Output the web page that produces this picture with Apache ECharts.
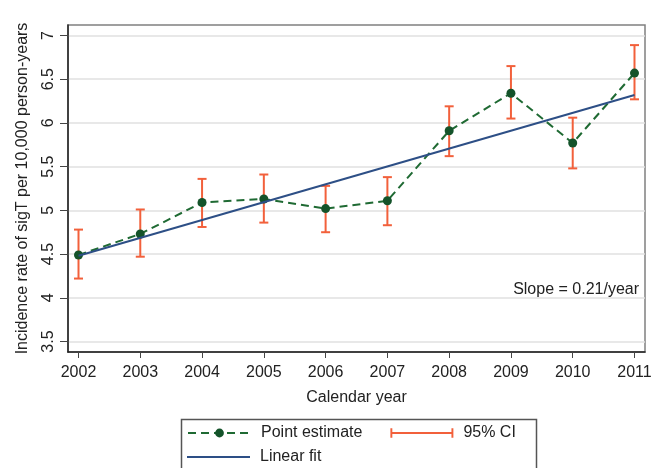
<!DOCTYPE html>
<html>
<head>
<meta charset="utf-8">
<script src="https://cdn.jsdelivr.net/npm/echarts@6/dist/echarts.min.js"></script>
<style>
  html, body { margin: 0; padding: 0; background: #fff; }
  #chart { width: 666px; height: 468px; }
</style>
</head>
<body>
<div id="chart"></div>
<script>
const years = [2002, 2003, 2004, 2005, 2006, 2007, 2008, 2009, 2010, 2011];
const estimates = [4.49, 4.73, 5.09, 5.13, 5.02, 5.11, 5.91, 6.34, 5.77, 6.57];
const ciLow = [4.22, 4.47, 4.81, 4.86, 4.75, 4.83, 5.62, 6.05, 5.48, 6.27];
const ciHigh = [4.78, 5.01, 5.36, 5.41, 5.28, 5.38, 6.19, 6.65, 6.06, 6.89];
const fitYears = [2002, 2011];
const fitValues = [4.48, 6.32];
const yTicks = [3.5, 4, 4.5, 5, 5.5, 6, 6.5, 7];
const xTicks = years;

const FONT = "'Liberation Sans', Arial, sans-serif";
const TXT = '#222';
const GREEN = '#1f6a33';
const MARK = '#14532a';
const ORANGE = '#f2603b';
const BLUE = '#2d4f86';

const chart = echarts.init(document.getElementById('chart'));

const option = {
  animation: false,
  backgroundColor: '#fff',
  textStyle: { fontFamily: FONT, color: TXT },
  grid: {
    left: 68, top: 25, right: 21, bottom: 116,
    show: true, borderColor: '#808080', borderWidth: 1.5, backgroundColor: 'transparent'
  },
  xAxis: {
    type: 'value',
    min: 2001.83, max: 2011.17,
    name: 'Calendar year',
    nameLocation: 'middle',
    nameGap: 38,
    nameTextStyle: { fontSize: 16, color: TXT, fontFamily: FONT },
    axisLine: { show: true, lineStyle: { color: '#222', width: 1.5 } },
    axisTick: { show: true, length: 6, customValues: xTicks, lineStyle: { color: '#444', width: 1 } },
    axisLabel: { customValues: xTicks, fontSize: 16, color: TXT, margin: 13, fontFamily: FONT,
      formatter: v => String(v) },
    splitLine: { show: false }
  },
  yAxis: {
    type: 'value',
    min: 3.38, max: 7.12,
    name: 'Incidence rate of sigT per 10,000 person-years',
    nameLocation: 'middle',
    nameGap: 37,
    nameRotate: 90,
    nameTextStyle: { fontSize: 16, color: TXT, fontFamily: FONT },
    axisLine: { show: true, lineStyle: { color: '#222', width: 1.5 } },
    axisTick: { show: true, length: 8, customValues: yTicks, lineStyle: { color: '#444', width: 1 } },
    axisLabel: { customValues: yTicks, fontSize: 16, color: TXT, margin: 11, rotate: 90,
      align: 'center', verticalAlign: 'bottom', fontFamily: FONT,
      formatter: v => String(v) },
    splitLine: { show: true, lineStyle: { color: '#e0e0e0', width: 1.5 } }
  },
  legend: [
    {
      left: 187, top: 425, itemWidth: 63, itemHeight: 11, itemGap: 28,
      padding: 0,
      textStyle: { fontSize: 16, color: TXT, fontFamily: FONT, padding: [0, 0, 0, 5] },
      data: [
        { name: 'Point estimate' },
        { name: '95% CI', icon: 'path://M0,0h2v10h-2zM2,4h61v2h-61zM63,0h2v10h-2z' }
      ]
    },
    {
      left: 187, top: 449, itemWidth: 63, itemHeight: 11, padding: 0,
      textStyle: { fontSize: 16, color: TXT, fontFamily: FONT, padding: [0, 0, 0, 5] },
      data: [{ name: 'Linear fit', icon: 'path://M0,0h63v2h-63z' }]
    }
  ],
  graphic: [
    {
      type: 'rect', left: 179, top: 417, silent: true,
      shape: { width: 355, height: 70 },
      style: { fill: 'none', stroke: '#555', lineWidth: 1.5 }
    },
    {
      type: 'text', right: 27, top: 282, silent: true,
      style: { text: 'Slope = 0.21/year', font: '16px ' + FONT, fill: TXT }
    }
  ],
  series: [
    {
      name: '95% CI',
      type: 'custom',
      itemStyle: { color: ORANGE },
      data: years.map((y, i) => [y, ciLow[i], ciHigh[i]]),
      encode: { x: 0, y: [1, 2] },
      z: 2,
      renderItem: function (params, api) {
        const x = api.value(0), lo = api.value(1), hi = api.value(2);
        const pLo = api.coord([x, lo]);
        const pHi = api.coord([x, hi]);
        const w = 4.5;
        const style = { stroke: ORANGE, lineWidth: 2, fill: 'none' };
        return {
          type: 'group',
          children: [
            { type: 'line', shape: { x1: pLo[0], y1: pLo[1], x2: pHi[0], y2: pHi[1] }, style },
            { type: 'line', shape: { x1: pLo[0] - w, y1: pLo[1], x2: pLo[0] + w, y2: pLo[1] }, style },
            { type: 'line', shape: { x1: pHi[0] - w, y1: pHi[1], x2: pHi[0] + w, y2: pHi[1] }, style }
          ]
        };
      }
    },
    {
      name: 'Point estimate',
      type: 'line',
      data: years.map((y, i) => [y, estimates[i]]),
      symbol: 'circle',
      symbolSize: 9,
      showSymbol: true,
      lineStyle: { color: GREEN, width: 2, type: [8, 5] },
      itemStyle: { color: MARK, borderWidth: 0 },
      z: 3
    },
    {
      name: 'Linear fit',
      type: 'line',
      data: fitYears.map((y, i) => [y, fitValues[i]]),
      symbol: 'none',
      lineStyle: { color: BLUE, width: 2 },
      itemStyle: { color: BLUE },
      z: 4
    }
  ]
};

chart.setOption(option);
</script>
</body>
</html>
